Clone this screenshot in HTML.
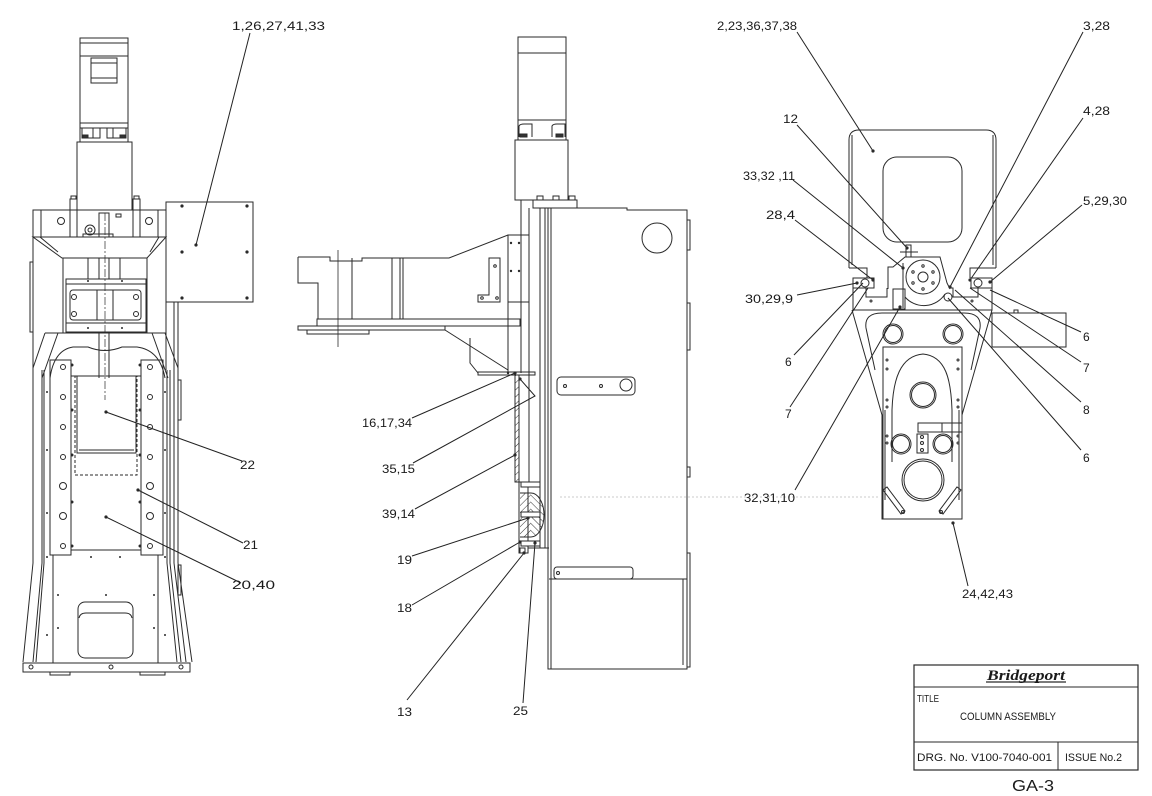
<!DOCTYPE html>
<html><head><meta charset="utf-8"><style>
html,body{margin:0;padding:0;background:#fff;}
svg{display:block}
text{font-family:"Liberation Sans",Arial,sans-serif;fill:#1a1a1a}
</style></head><body>
<svg width="1152" height="796" viewBox="0 0 1152 796" xmlns="http://www.w3.org/2000/svg">
<defs>
<pattern id="hatch" width="5" height="5" patternUnits="userSpaceOnUse" patternTransform="rotate(45)">
<line x1="0" y1="0" x2="0" y2="5" stroke="#333" stroke-width="1"/></pattern>
<pattern id="hatch2" width="5" height="5" patternUnits="userSpaceOnUse" patternTransform="rotate(-45)">
<line x1="0" y1="0" x2="0" y2="5" stroke="#333" stroke-width="1"/></pattern>
</defs>
<rect width="1152" height="796" fill="#fff"/>
<g fill="none" stroke="#2a2a2a" stroke-width="1">

<!-- ================= LEFT VIEW ================= -->
<rect x="80" y="38" width="48" height="104"/>
<line x1="80" y1="43" x2="128" y2="43"/>
<line x1="80" y1="56" x2="128" y2="56"/>
<rect x="91" y="58" width="26" height="25"/>
<line x1="91" y1="63" x2="117" y2="63"/>
<line x1="91" y1="78" x2="117" y2="78"/>
<line x1="80" y1="123" x2="128" y2="123"/>
<line x1="80" y1="128" x2="128" y2="128"/>
<rect x="82" y="128" width="18" height="10"/><line x1="93" y1="128" x2="93" y2="138"/>
<rect x="107" y="128" width="19" height="10"/><line x1="113" y1="128" x2="113" y2="138"/>
<rect x="83" y="135" width="5" height="3" fill="#333"/><rect x="120" y="135" width="5" height="3" fill="#333"/>
<rect x="77" y="142" width="55" height="68"/>
<rect x="70" y="199" width="7" height="11"/><rect x="71" y="196" width="5" height="3"/>
<rect x="133" y="199" width="7" height="11"/><rect x="134" y="196" width="5" height="3"/>
<rect x="33" y="210" width="133" height="27"/>
<line x1="41" y1="210" x2="41" y2="237"/>
<line x1="70" y1="210" x2="70" y2="237"/><line x1="77" y1="210" x2="77" y2="237"/>
<line x1="133" y1="210" x2="133" y2="237"/><line x1="140" y1="210" x2="140" y2="237"/>
<line x1="158" y1="210" x2="158" y2="237"/>
<circle cx="61" cy="221" r="3.5"/><circle cx="149" cy="221" r="3.5"/>
<rect x="99" y="213" width="10" height="24"/>
<circle cx="90" cy="230" r="5"/><circle cx="90" cy="230" r="2"/>
<rect x="83" y="234" width="30" height="3"/>
<rect x="116" y="214" width="5" height="3"/>
<polygon points="33,237 166,237 147,258 62,258"/>
<line x1="40" y1="237" x2="58" y2="252"/><line x1="159" y1="237" x2="150" y2="252"/>
<line x1="63" y1="258" x2="63" y2="333"/><line x1="147" y1="258" x2="147" y2="333"/>
<line x1="88" y1="258" x2="88" y2="279"/><line x1="120" y1="258" x2="120" y2="279"/>
<line x1="99" y1="258" x2="99" y2="279"/><line x1="109" y1="258" x2="109" y2="279"/>
<rect x="66" y="279" width="80" height="5"/>
<rect x="66" y="284" width="80" height="39"/>
<rect x="66" y="323" width="80" height="9"/>
<rect x="70" y="290" width="71" height="30" rx="3"/>
<line x1="97" y1="290" x2="97" y2="320"/><line x1="113" y1="290" x2="113" y2="320"/>
<circle cx="74" cy="297" r="2.5"/><circle cx="136" cy="297" r="2.5"/>
<circle cx="74" cy="314" r="2.5"/><circle cx="136" cy="314" r="2.5"/>
<!-- legs & arch -->
<line x1="45" y1="333" x2="33" y2="368"/><line x1="58" y1="333" x2="42" y2="378"/>
<line x1="45" y1="333" x2="166" y2="333"/>
<line x1="152" y1="333" x2="168" y2="378"/><line x1="165" y1="333" x2="178" y2="368"/>
<path d="M50,378 Q54,350 73,347 L88,347 Q105,354 122,347 L137,347 Q160,350 165,378"/>
<line x1="99" y1="332" x2="99" y2="378"/><line x1="109" y1="332" x2="109" y2="378"/>
<!-- outer column -->
<polyline points="33,237 33,563 23,662"/>
<polyline points="42,370 42,563 33,662"/>
<polyline points="44,370 44,563 36,662"/>
<line x1="166" y1="237" x2="166" y2="370"/>
<polyline points="167,370 167,563 177,662"/>
<polyline points="170,370 170,563 181,662"/>
<polyline points="174,302 174,563 186,662"/>
<polyline points="178,302 178,563 192,662"/>
<rect x="30" y="262" width="3" height="70"/>
<rect x="178" y="380" width="3" height="40"/>
<rect x="178" y="565" width="3" height="30"/>
<!-- rails & plates -->
<rect x="50" y="360" width="21" height="195"/>
<rect x="141" y="360" width="22" height="195"/>
<rect x="71" y="376" width="70" height="174"/>
<rect x="77" y="376" width="59" height="77"/>
<line x1="79" y1="450" x2="134" y2="450"/>
<rect x="75" y="376" width="62" height="99" stroke-dasharray="3,2"/>
<line x1="53" y1="555" x2="53" y2="663"/><line x1="158" y1="555" x2="158" y2="663"/>
<rect x="78" y="602" width="55" height="56" rx="7"/>
<path d="M79,618 Q80,613 86,613 L125,613 Q131,613 132,618"/>
<rect x="23" y="663" width="167" height="9"/>
<path d="M50,672 L50,675 L70,675 L70,672 M140,672 L140,675 L165,675 L165,672"/>
<line x1="105" y1="213" x2="105" y2="400" stroke-dasharray="8,2,2,2" stroke-width="0.7"/>
<!-- panel -->
<rect x="166" y="202" width="87" height="100"/>
</g>
<g fill="#2a2a2a" stroke="none">
<circle cx="182" cy="206" r="1.6"/><circle cx="247" cy="206" r="1.6"/>
<circle cx="182" cy="252" r="1.6"/><circle cx="247" cy="252" r="1.6"/>
<circle cx="182" cy="298" r="1.6"/><circle cx="247" cy="298" r="1.6"/>
<circle cx="196" cy="245" r="1.6"/>
<circle cx="72" cy="365" r="1.5"/><circle cx="72" cy="410" r="1.5"/><circle cx="72" cy="455" r="1.5"/><circle cx="72" cy="502" r="1.5"/><circle cx="72" cy="546" r="1.5"/>
<circle cx="140" cy="365" r="1.5"/><circle cx="140" cy="410" r="1.5"/><circle cx="140" cy="455" r="1.5"/><circle cx="140" cy="502" r="1.5"/><circle cx="140" cy="546" r="1.5"/>
<circle cx="47" cy="392" r="1"/><circle cx="47" cy="450" r="1"/><circle cx="47" cy="513" r="1"/><circle cx="47" cy="557" r="1"/><circle cx="47" cy="635" r="1"/>
<circle cx="165" cy="392" r="1"/><circle cx="165" cy="450" r="1"/><circle cx="165" cy="513" r="1"/><circle cx="165" cy="557" r="1"/><circle cx="165" cy="635" r="1"/>
<circle cx="91" cy="557" r="1"/><circle cx="120" cy="557" r="1"/>
<circle cx="58" cy="595" r="1"/><circle cx="106" cy="595" r="1"/><circle cx="154" cy="595" r="1"/>
<circle cx="58" cy="628" r="1"/><circle cx="154" cy="628" r="1"/>
<circle cx="106" cy="412" r="1.6"/><circle cx="138" cy="490" r="1.6"/><circle cx="106" cy="517" r="1.6"/>
<circle cx="88" cy="281" r="1"/><circle cx="122" cy="281" r="1"/>
<circle cx="88" cy="328" r="1"/><circle cx="122" cy="328" r="1"/>
</g>
<g fill="none" stroke="#2a2a2a" stroke-width="1">
<circle cx="63" cy="367" r="2.5"/><circle cx="63" cy="397" r="2.5"/><circle cx="63" cy="427" r="2.5"/><circle cx="63" cy="457" r="2.5"/>
<circle cx="63" cy="486" r="3.5"/><circle cx="63" cy="516" r="3.5"/><circle cx="63" cy="546" r="2.5"/>
<circle cx="150" cy="367" r="2.5"/><circle cx="150" cy="397" r="2.5"/><circle cx="150" cy="427" r="2.5"/><circle cx="150" cy="457" r="2.5"/>
<circle cx="150" cy="486" r="3.5"/><circle cx="150" cy="516" r="3.5"/><circle cx="150" cy="546" r="2.5"/>
<circle cx="31" cy="667" r="2"/><circle cx="111" cy="667" r="2"/><circle cx="181" cy="667" r="2"/>

<!-- ================= MIDDLE VIEW ================= -->
<rect x="518" y="37" width="48" height="103"/>
<line x1="518" y1="53" x2="566" y2="53"/>
<line x1="518" y1="120" x2="566" y2="120"/>
<path d="M519,137 L519,126 Q520,124 524,124 L532,124 L532,137"/>
<path d="M552,137 L552,126 Q553,124 557,124 L565,124 L565,137"/>
<rect x="520" y="134" width="7" height="3" fill="#333"/><rect x="556" y="134" width="7" height="3" fill="#333"/>
<rect x="515" y="140" width="53" height="60"/>
<rect x="533" y="200" width="44" height="8"/>
<rect x="537" y="196" width="6" height="4"/><rect x="553" y="196" width="6" height="4"/><rect x="569" y="196" width="6" height="4"/>
<path d="M548,208 L627,208 L627,210 L687,210 L687,669 L548,669 Z"/>
<circle cx="657" cy="238" r="15"/>
<line x1="549" y1="579" x2="687" y2="579"/>
<line x1="683" y1="579" x2="683" y2="665"/>
<rect x="557" y="377" width="78" height="18" rx="4"/>
<circle cx="565" cy="386" r="1.5"/><circle cx="601" cy="386" r="1.5"/><circle cx="626" cy="385" r="6"/>
<rect x="554" y="567" width="79" height="12" rx="3"/>
<circle cx="558" cy="573" r="1.5"/>
<rect x="687" y="220" width="3" height="30"/><rect x="687" y="303" width="3" height="47"/>
<rect x="687" y="467" width="3" height="10"/><rect x="687" y="553" width="3" height="114"/>
<line x1="521" y1="200" x2="521" y2="373"/>
<line x1="529" y1="208" x2="529" y2="482"/>
<line x1="540" y1="208" x2="540" y2="548"/>
<line x1="545" y1="208" x2="545" y2="548"/>
<line x1="551" y1="208" x2="551" y2="669"/>
<line x1="528" y1="548" x2="549" y2="548"/>
<!-- arm -->
<path d="M298,257 L330,257 L330,261 L362,261 L362,258 L449,258 L508,235 L521,235"/>
<polyline points="298,257 298,283 318,283 318,319"/>
<rect x="317" y="319" width="203" height="7"/>
<rect x="298" y="326" width="147" height="4"/>
<rect x="307" y="330" width="62" height="4"/>
<line x1="338" y1="250" x2="338" y2="347" stroke-width="0.8"/>
<line x1="352" y1="258" x2="352" y2="319"/>
<line x1="392" y1="258" x2="392" y2="319"/>
<line x1="400" y1="258" x2="400" y2="319"/>
<line x1="403" y1="258" x2="403" y2="319"/>
<line x1="508" y1="235" x2="508" y2="373"/>
<rect x="508" y="235" width="21" height="67"/>
<path d="M489,258 L500,258 L500,302 L478,302 L478,295 L489,295 Z"/>
<circle cx="495" cy="266" r="1.3"/><circle cx="482" cy="298" r="1.3"/><circle cx="497" cy="298" r="1.3"/>
<line x1="445" y1="330" x2="508" y2="370"/>
<polyline points="470,338 470,363 478,373"/>
<rect x="478" y="372" width="57" height="3"/>
<!-- rail & gib -->
<rect x="515" y="375" width="4" height="107" fill="url(#hatch)"/>
<rect x="519" y="482" width="9" height="71"/>
<path d="M520,493 L531,493 L531,537 L520,537 Z" fill="url(#hatch)" stroke="none"/>
<path d="M531,493 A13 22 0 0 1 531,537 Z" fill="url(#hatch2)" stroke="none"/>
<path d="M520,493 L531,493 A13 22 0 0 1 531,537 L520,537"/>
<rect x="521" y="482" width="19" height="5" fill="#fff"/>
<rect x="521" y="512" width="19" height="5" fill="#fff"/>
<rect x="521" y="541" width="19" height="5" fill="#fff"/>
<rect x="520" y="548" width="5" height="5" fill="#fff"/>

<!-- ================= RIGHT VIEW ================= -->
<path d="M849,268 L849,140 Q849,130 859,130 L986,130 Q996,130 996,140 L996,268"/>
<line x1="852" y1="135" x2="852" y2="265"/><line x1="993" y1="135" x2="993" y2="265"/>
<rect x="883" y="157" width="79" height="85" rx="14"/>
<polyline points="849,268 867,268 867,278"/>
<polyline points="996,268 970,268 970,278"/>
<path d="M888,289 L888,267 L893,267 L905,257 L940,257 L947,283 L950,289"/>
<line x1="903" y1="263" x2="903" y2="308"/>
<circle cx="923" cy="277" r="17"/>
<circle cx="923" cy="277" r="5"/>
<circle cx="923" cy="266" r="1.2"/><circle cx="933" cy="272" r="1.2"/><circle cx="933" cy="283" r="1.2"/>
<circle cx="923" cy="289" r="1.2"/><circle cx="913" cy="283" r="1.2"/><circle cx="913" cy="272" r="1.2"/>
<path d="M905,297 A25 25 0 0 0 945,294"/>
<rect x="906" y="245" width="5" height="12"/>
<line x1="900" y1="252" x2="918" y2="252"/>
<rect x="853" y="278" width="21" height="10"/>
<circle cx="865" cy="283" r="4"/>
<rect x="971" y="278" width="21" height="10"/>
<circle cx="978" cy="283" r="4"/>
<polyline points="853,288 853,310 992,310 992,288"/>
<polyline points="874,288 866,288 866,297 887,297 887,288"/>
<polyline points="970,288 978,288 978,297 953,297 953,288 950,288"/>
<rect x="893" y="289" width="12" height="20"/>
<circle cx="948" cy="297" r="4"/>
<!-- body -->
<polyline points="852,310 882,415 882,519 962,519 962,415 992,310"/>
<rect x="883" y="347" width="79" height="172"/>
<path d="M875,370 L866,328 Q864,313 882,313 L964,313 Q982,313 980,328 L971,370"/>
<line x1="885" y1="410" x2="885" y2="500"/><line x1="959" y1="410" x2="959" y2="500"/>
<circle cx="893" cy="334" r="10"/><circle cx="893" cy="334" r="8.5"/>
<circle cx="953" cy="334" r="10"/><circle cx="953" cy="334" r="8.5"/>
<path d="M892,462 L892,410 C893,380 900,356 923,354 C946,356 951,380 952,410 L952,462"/>
<circle cx="923" cy="395" r="13"/><circle cx="923" cy="395" r="11.5"/>
<circle cx="901" cy="444" r="10"/><circle cx="901" cy="444" r="8.5"/>
<circle cx="943" cy="444" r="10"/><circle cx="943" cy="444" r="8.5"/>
<circle cx="923" cy="480" r="21"/><circle cx="923" cy="480" r="19"/>
<rect x="918" y="423" width="44" height="9"/><line x1="942" y1="423" x2="942" y2="432"/>
<rect x="917" y="434" width="11" height="19"/>
<circle cx="922" cy="437" r="1.5"/><circle cx="922" cy="443" r="1.5"/><circle cx="922" cy="450" r="1.5"/>
<path d="M883,490 L901,514 L905,511 L887,487 Z"/>
<path d="M961,490 L943,514 L939,511 L957,487 Z"/>
<circle cx="903" cy="512" r="1.5"/><circle cx="941" cy="512" r="1.5"/>
<rect x="992" y="313" width="74" height="34"/>
<rect x="1014" y="310" width="4" height="3"/>
<circle cx="887" cy="360" r="1"/><circle cx="887" cy="369" r="1"/><circle cx="887" cy="400" r="1"/><circle cx="887" cy="407" r="1"/><circle cx="887" cy="436" r="1"/><circle cx="887" cy="443" r="1"/>
<circle cx="958" cy="360" r="1"/><circle cx="958" cy="369" r="1"/><circle cx="958" cy="400" r="1"/><circle cx="958" cy="407" r="1"/><circle cx="958" cy="436" r="1"/><circle cx="958" cy="443" r="1"/>
<circle cx="871" cy="301" r="1"/><circle cx="972" cy="301" r="1"/>

<!-- ================= LEADERS ================= -->
<g stroke="#222" stroke-width="1">
<line x1="250" y1="33" x2="196" y2="245"/>
<line x1="242" y1="461" x2="106" y2="412"/>
<line x1="243" y1="543" x2="138" y2="490"/>
<line x1="241" y1="583" x2="106" y2="517"/>
<line x1="412" y1="418" x2="515" y2="373"/>
<polyline points="413,463 535,396 520,379"/>
<line x1="415" y1="509" x2="515" y2="455"/>
<line x1="412" y1="556" x2="528" y2="518"/>
<line x1="412" y1="605" x2="520" y2="542"/>
<line x1="407" y1="700" x2="524" y2="553"/>
<line x1="523" y1="703" x2="535" y2="543"/>
<line x1="797" y1="32" x2="873" y2="151"/>
<line x1="797" y1="125" x2="907" y2="248"/>
<line x1="793" y1="180" x2="903" y2="268"/>
<line x1="795" y1="220" x2="873" y2="280"/>
<line x1="797" y1="295" x2="857" y2="283"/>
<line x1="1083" y1="32" x2="950" y2="287"/>
<line x1="1083" y1="118" x2="970" y2="280"/>
<line x1="1082" y1="205" x2="990" y2="282"/>
<line x1="1081" y1="332" x2="990" y2="290"/>
<line x1="1081" y1="362" x2="970" y2="288"/>
<line x1="1081" y1="402" x2="955" y2="290"/>
<line x1="1081" y1="450" x2="948" y2="298"/>
<line x1="794" y1="355" x2="863" y2="283"/>
<line x1="790" y1="407" x2="868" y2="288"/>
<line x1="795" y1="490" x2="900" y2="307"/>
<line x1="968" y1="586" x2="953" y2="523"/>
</g>
<line x1="560" y1="497" x2="880" y2="497" stroke="#bbb" stroke-dasharray="2,2" stroke-width="0.8"/>

<!-- ================= TITLE BLOCK ================= -->
<rect x="914" y="665" width="224" height="105" stroke-width="1.2"/>
<line x1="914" y1="687" x2="1138" y2="687"/>
<line x1="914" y1="742" x2="1138" y2="742"/>
<line x1="1058" y1="742" x2="1058" y2="770"/>
<line x1="986" y1="682" x2="1066" y2="682" stroke-width="1.3"/>
</g>
<g fill="#2a2a2a">
<circle cx="873" cy="151" r="1.6"/><circle cx="907" cy="248" r="1.6"/><circle cx="903" cy="268" r="1.6"/>
<circle cx="873" cy="280" r="1.6"/><circle cx="857" cy="283" r="1.6"/><circle cx="950" cy="287" r="1.6"/>
<circle cx="970" cy="280" r="1.6"/><circle cx="990" cy="282" r="1.6"/><circle cx="900" cy="307" r="1.6"/>
<circle cx="953" cy="523" r="1.6"/>
<circle cx="515" cy="373" r="1.6"/><circle cx="520" cy="379" r="1.6"/><circle cx="515" cy="455" r="1.6"/>
<circle cx="528" cy="518" r="1.6"/><circle cx="520" cy="542" r="1.6"/><circle cx="524" cy="553" r="1.6"/><circle cx="535" cy="543" r="1.6"/>
<circle cx="511" cy="243" r="1.2"/><circle cx="519" cy="243" r="1.2"/><circle cx="511" cy="271" r="1.2"/><circle cx="519" cy="271" r="1.2"/>
<circle cx="508" cy="373" r="1.2"/>
</g>

<!-- ================= LABELS ================= -->
<g font-size="12">
<text x="232" y="30" textLength="93" lengthAdjust="spacingAndGlyphs">1,26,27,41,33</text>
<text x="240" y="469" textLength="15" lengthAdjust="spacingAndGlyphs">22</text>
<text x="243" y="549" textLength="15" lengthAdjust="spacingAndGlyphs">21</text>
<text x="232" y="589" textLength="43" lengthAdjust="spacingAndGlyphs">20,40</text>
<text x="362" y="427" textLength="50" lengthAdjust="spacingAndGlyphs">16,17,34</text>
<text x="382" y="473" textLength="33" lengthAdjust="spacingAndGlyphs">35,15</text>
<text x="382" y="518" textLength="33" lengthAdjust="spacingAndGlyphs">39,14</text>
<text x="397" y="564" textLength="15" lengthAdjust="spacingAndGlyphs">19</text>
<text x="397" y="612" textLength="15" lengthAdjust="spacingAndGlyphs">18</text>
<text x="397" y="716" textLength="15" lengthAdjust="spacingAndGlyphs">13</text>
<text x="513" y="715" textLength="15" lengthAdjust="spacingAndGlyphs">25</text>
<text x="717" y="30" textLength="80" lengthAdjust="spacingAndGlyphs">2,23,36,37,38</text>
<text x="1083" y="30" textLength="27" lengthAdjust="spacingAndGlyphs">3,28</text>
<text x="783" y="123" textLength="15" lengthAdjust="spacingAndGlyphs">12</text>
<text x="1083" y="115" textLength="27" lengthAdjust="spacingAndGlyphs">4,28</text>
<text x="743" y="180" textLength="52" lengthAdjust="spacingAndGlyphs">33,32 ,11</text>
<text x="1083" y="205" textLength="44" lengthAdjust="spacingAndGlyphs">5,29,30</text>
<text x="766" y="219" textLength="29" lengthAdjust="spacingAndGlyphs">28,4</text>
<text x="745" y="303" textLength="48" lengthAdjust="spacingAndGlyphs">30,29,9</text>
<text x="785" y="366">6</text>
<text x="785" y="418">7</text>
<text x="744" y="502" textLength="51" lengthAdjust="spacingAndGlyphs">32,31,10</text>
<text x="1083" y="341">6</text>
<text x="1083" y="372">7</text>
<text x="1083" y="414">8</text>
<text x="1083" y="462">6</text>
<text x="962" y="598" textLength="51" lengthAdjust="spacingAndGlyphs">24,42,43</text>
</g>
<g>
<text x="1026" y="680" style="font-family:'Liberation Serif',serif;font-weight:bold;font-style:italic;font-size:15px" text-anchor="middle" textLength="78" lengthAdjust="spacingAndGlyphs">Bridgeport</text>
<text x="917" y="702" font-size="10" textLength="22" lengthAdjust="spacingAndGlyphs">TITLE</text>
<text x="960" y="720" font-size="11" textLength="96" lengthAdjust="spacingAndGlyphs">COLUMN ASSEMBLY</text>
<text x="917" y="761" font-size="11" textLength="135" lengthAdjust="spacingAndGlyphs">DRG. No. V100-7040-001</text>
<text x="1065" y="761" font-size="11" textLength="57" lengthAdjust="spacingAndGlyphs">ISSUE No.2</text>
<text x="1012" y="791" font-size="16" textLength="42" lengthAdjust="spacingAndGlyphs">GA-3</text>
</g>
</svg>
</body></html>
